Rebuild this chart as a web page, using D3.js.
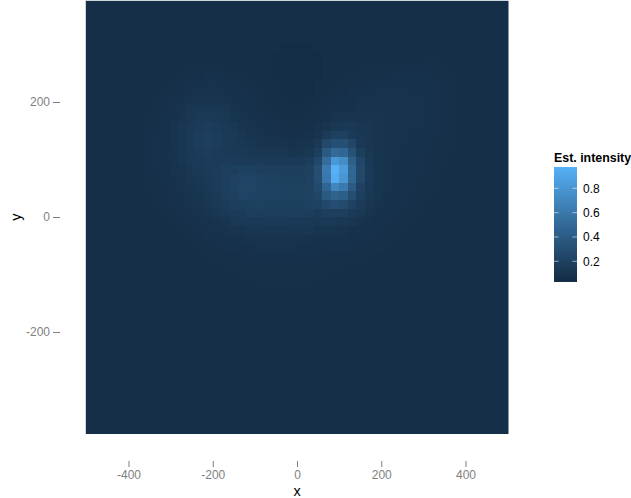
<!DOCTYPE html>
<html><head><meta charset="utf-8">
<script src="https://cdnjs.cloudflare.com/ajax/libs/d3/7.8.5/d3.min.js"></script>
<style>html,body{margin:0;padding:0;background:#fff}svg{display:block;font-family:"Liberation Sans",Arial,sans-serif}</style>
</head><body><svg id="c" width="631" height="498"></svg>
<script>
const xTicks=[-400,-200,0,200,400];
const yTicks=[-200,0,200];
const legendTicks=[0.2,0.4,0.6,0.8];
const legendTitle="Est. intensity";
// estimated intensity x100; rows from the top (y high) to the bottom, columns left to right
const intensity=[
[6,6,6,6,6,6,6,6,6,6,6,6,6,6,6,6,6,6,6,6,6,6,6,6,6,6,6,6,6,6,6,6,6,6,6,6,6,6,6,6,6,6,6,6,6,6,6,6,6,6],
[6,6,6,6,6,6,6,6,6,6,6,6,6,6,6,6,6,6,6,6,6,6,6,6,6,6,6,6,6,6,6,6,6,6,6,6,6,6,6,6,6,6,6,6,6,6,6,6,6,6],
[6,6,6,6,6,6,6,6,6,6,6,6,6,6,6,6,6,6,6,6,6,6,6,6,6,6,6,6,6,6,6,6,6,6,6,6,6,6,6,6,6,6,6,6,6,6,6,6,6,6],
[6,6,6,6,6,6,6,6,6,6,6,6,6,6,6,6,6,6,6,6,6,6,6,6,6,6,6,6,6,6,6,6,6,6,6,6,6,6,6,6,6,6,6,6,6,6,6,6,6,6],
[6,6,6,6,6,6,6,6,6,6,6,6,6,6,6,6,6,6,6,6,6,6,6,6,6,6,6,6,6,6,6,6,6,6,6,6,6,6,6,6,6,6,6,6,6,6,6,6,6,6],
[6,6,6,6,6,6,6,6,6,6,6,6,6,6,6,6,6,6,6,6,6,6,6,5,5,5,5,6,6,6,6,6,6,6,6,6,6,6,6,6,6,6,6,6,6,6,6,6,6,6],
[6,6,6,6,6,6,6,6,6,6,6,6,6,6,6,6,6,6,6,6,6,6,5,5,5,5,5,5,6,6,6,6,6,6,6,6,6,6,6,6,7,7,6,6,6,6,6,6,6,6],
[6,6,6,6,6,6,6,6,6,6,6,6,7,7,7,7,6,6,6,6,6,6,5,5,5,5,5,5,6,6,6,6,6,7,7,7,7,7,7,7,7,7,7,6,6,6,6,6,6,6],
[6,6,6,6,6,6,6,6,6,6,6,7,7,7,8,8,7,7,7,6,6,6,5,5,5,5,5,5,6,6,6,7,7,7,7,7,8,8,8,8,8,7,7,7,6,6,6,6,6,6],
[6,6,6,6,6,6,6,6,6,6,7,7,8,8,9,9,8,8,7,7,6,6,6,5,5,5,5,6,6,6,7,7,7,8,8,8,8,8,8,8,8,8,7,7,6,6,6,6,6,6],
[6,6,6,6,6,6,6,6,6,7,7,8,9,10,10,10,9,8,8,7,7,6,6,5,5,5,5,6,6,7,7,8,8,8,9,9,9,9,9,8,8,8,7,7,6,6,6,6,6,6],
[6,6,6,6,6,6,6,6,7,7,8,9,10,11,11,11,10,9,8,8,7,6,6,6,5,5,6,6,7,8,8,8,9,9,9,9,9,9,9,9,8,8,7,7,6,6,6,6,6,6],
[6,6,6,6,6,6,6,6,7,8,9,10,12,13,13,13,12,10,9,8,7,7,6,6,6,6,6,7,8,8,9,9,10,10,10,10,10,9,9,9,8,8,7,7,6,6,6,6,6,6],
[6,6,6,6,6,6,6,7,7,8,9,11,13,15,15,14,13,11,10,9,8,7,7,6,6,6,7,7,8,10,11,11,11,11,11,10,10,9,9,9,8,8,7,7,6,6,6,6,6,6],
[6,6,6,6,6,6,6,7,7,8,10,12,14,16,17,16,14,13,11,10,9,8,8,7,7,7,7,9,11,13,14,14,12,12,11,10,10,9,9,9,8,8,7,7,6,6,6,6,6,6],
[6,6,6,6,6,6,6,7,8,8,10,12,15,17,18,17,15,14,12,11,10,9,9,8,8,8,9,11,16,20,20,16,13,12,11,10,10,9,9,8,8,8,7,7,6,6,6,6,6,6],
[6,6,6,6,6,6,6,7,8,8,10,12,15,17,18,17,15,14,13,12,11,10,10,10,9,10,11,14,26,31,31,24,14,12,11,10,9,9,9,8,8,7,7,7,6,6,6,6,6,6],
[6,6,6,6,6,6,6,7,8,9,10,12,14,16,17,16,15,14,14,13,13,12,12,12,11,12,13,19,38,50,48,33,19,13,11,10,9,9,8,8,8,7,7,6,6,6,6,6,6,6],
[6,6,6,6,6,6,6,7,8,9,10,12,14,15,16,16,16,16,16,16,16,15,15,15,14,15,17,25,53,82,74,43,24,14,11,10,9,9,8,8,7,7,7,6,6,6,6,6,6,6],
[6,6,6,6,6,6,6,7,8,8,10,11,13,14,15,16,18,19,20,20,19,18,18,18,17,18,20,30,62,97,84,48,26,15,11,10,9,8,8,8,7,7,6,6,6,6,6,6,6,6],
[6,6,6,6,6,6,6,7,7,8,9,10,12,13,15,16,18,21,22,22,21,20,20,19,19,19,21,30,60,95,80,47,25,15,11,10,9,8,8,7,7,7,6,6,6,6,6,6,6,6],
[6,6,6,6,6,6,6,7,7,8,9,10,11,12,14,16,19,21,23,23,22,21,21,20,20,20,21,27,47,70,61,39,21,14,11,10,9,8,8,7,7,7,6,6,6,6,6,6,6,6],
[6,6,6,6,6,6,6,6,7,7,8,9,10,11,13,15,18,20,22,22,21,21,21,20,20,20,21,24,38,45,42,29,19,13,11,9,8,8,7,7,7,6,6,6,6,6,6,6,6,6],
[6,6,6,6,6,6,6,6,7,7,8,9,10,11,12,14,16,18,19,19,20,19,19,19,19,19,20,21,26,30,28,21,16,12,10,9,8,8,7,7,6,6,6,6,6,6,6,6,6,6],
[6,6,6,6,6,6,6,6,6,7,7,8,9,10,11,12,14,15,16,17,17,17,17,17,17,17,17,16,18,19,18,15,13,11,9,8,8,7,7,7,6,6,6,6,6,6,6,6,6,6],
[6,6,6,6,6,6,6,6,6,6,7,7,8,9,9,10,11,13,14,14,14,15,15,15,14,14,14,13,14,14,13,12,10,9,8,8,7,7,7,6,6,6,6,6,6,6,6,6,6,6],
[6,6,6,6,6,6,6,6,6,6,6,7,7,8,9,9,10,11,11,12,12,12,12,12,12,12,12,11,11,11,10,9,9,8,8,7,7,7,6,6,6,6,6,6,6,6,6,6,6,6],
[6,6,6,6,6,6,6,6,6,6,6,6,7,7,8,8,9,9,9,10,10,10,10,10,10,10,9,9,9,9,9,8,8,8,7,7,7,6,6,6,6,6,6,6,6,6,6,6,6,6],
[6,6,6,6,6,6,6,6,6,6,6,6,6,7,7,7,8,8,8,8,9,9,9,9,9,8,8,8,8,8,8,8,7,7,7,7,6,6,6,6,6,6,6,6,6,6,6,6,6,6],
[6,6,6,6,6,6,6,6,6,6,6,6,6,6,7,7,7,7,7,8,8,8,8,8,8,8,8,8,7,7,7,7,7,7,6,6,6,6,6,6,6,6,6,6,6,6,6,6,6,6],
[6,6,6,6,6,6,6,6,6,6,6,6,6,6,6,6,7,7,7,7,7,7,7,7,7,7,7,7,7,7,7,6,6,6,6,6,6,6,6,6,6,6,6,6,6,6,6,6,6,6],
[6,6,6,6,6,6,6,6,6,6,6,6,6,6,6,6,6,6,7,7,7,7,7,7,7,7,7,7,7,6,6,6,6,6,6,6,6,6,6,6,6,6,6,6,6,6,6,6,6,6],
[6,6,6,6,6,6,6,6,6,6,6,6,6,6,6,6,6,6,6,6,7,7,7,7,7,7,7,6,6,6,6,6,6,6,6,6,6,6,6,6,6,6,6,6,6,6,6,6,6,6],
[6,6,6,6,6,6,6,6,6,6,6,6,6,6,6,6,6,6,6,6,6,6,6,6,6,6,6,6,6,6,6,6,6,6,6,6,6,6,6,6,6,6,6,6,6,6,6,6,6,6],
[6,6,6,6,6,6,6,6,6,6,6,6,6,6,6,6,6,6,6,6,6,6,6,6,6,6,6,6,6,6,6,6,6,6,6,6,6,6,6,6,6,6,6,6,6,6,6,6,6,6],
[6,6,6,6,6,6,6,6,6,6,6,6,6,6,6,6,6,6,6,6,6,6,6,6,6,6,6,6,6,6,6,6,6,6,6,6,6,6,6,6,6,6,6,6,6,6,6,6,6,6],
[6,6,6,6,6,6,6,6,6,6,6,6,6,6,6,6,6,6,6,6,6,6,6,6,6,6,6,6,6,6,6,6,6,6,6,6,6,6,6,6,6,6,6,6,6,6,6,6,6,6],
[6,6,6,6,6,6,6,6,6,6,6,6,6,6,6,6,6,6,6,6,6,6,6,6,6,6,6,6,6,6,6,6,6,6,6,6,6,6,6,6,6,6,6,6,6,6,6,6,6,6],
[6,6,6,6,6,6,6,6,6,6,6,6,6,6,6,6,6,6,6,6,6,6,6,6,6,6,6,6,6,6,6,6,6,6,6,6,6,6,6,6,6,6,6,6,6,6,6,6,6,6],
[6,6,6,6,6,6,6,6,6,6,6,6,6,6,6,6,6,6,6,6,6,6,6,6,6,6,6,6,6,6,6,6,6,6,6,6,6,6,6,6,6,6,6,6,6,6,6,6,6,6],
[6,6,6,6,6,6,6,6,6,6,6,6,6,6,6,6,6,6,6,6,6,6,6,6,6,6,6,6,6,6,6,6,6,6,6,6,6,6,6,6,6,6,6,6,6,6,6,6,6,6],
[6,6,6,6,6,6,6,6,6,6,6,6,6,6,6,6,6,6,6,6,6,6,6,6,6,6,6,6,6,6,6,6,6,6,6,6,6,6,6,6,6,6,6,6,6,6,6,6,6,6],
[6,6,6,6,6,6,6,6,6,6,6,6,6,6,6,6,6,6,6,6,6,6,6,6,6,6,6,6,6,6,6,6,6,6,6,6,6,6,6,6,6,6,6,6,6,6,6,6,6,6],
[6,6,6,6,6,6,6,6,6,6,6,6,6,6,6,6,6,6,6,6,6,6,6,6,6,6,6,6,6,6,6,6,6,6,6,6,6,6,6,6,6,6,6,6,6,6,6,6,6,6],
[6,6,6,6,6,6,6,6,6,6,6,6,6,6,6,6,6,6,6,6,6,6,6,6,6,6,6,6,6,6,6,6,6,6,6,6,6,6,6,6,6,6,6,6,6,6,6,6,6,6],
[6,6,6,6,6,6,6,6,6,6,6,6,6,6,6,6,6,6,6,6,6,6,6,6,6,6,6,6,6,6,6,6,6,6,6,6,6,6,6,6,6,6,6,6,6,6,6,6,6,6],
[6,6,6,6,6,6,6,6,6,6,6,6,6,6,6,6,6,6,6,6,6,6,6,6,6,6,6,6,6,6,6,6,6,6,6,6,6,6,6,6,6,6,6,6,6,6,6,6,6,6],
[6,6,6,6,6,6,6,6,6,6,6,6,6,6,6,6,6,6,6,6,6,6,6,6,6,6,6,6,6,6,6,6,6,6,6,6,6,6,6,6,6,6,6,6,6,6,6,6,6,6],
[6,6,6,6,6,6,6,6,6,6,6,6,6,6,6,6,6,6,6,6,6,6,6,6,6,6,6,6,6,6,6,6,6,6,6,6,6,6,6,6,6,6,6,6,6,6,6,6,6,6],
[6,6,6,6,6,6,6,6,6,6,6,6,6,6,6,6,6,6,6,6,6,6,6,6,6,6,6,6,6,6,6,6,6,6,6,6,6,6,6,6,6,6,6,6,6,6,6,6,6,6]
];
const svg=d3.select("#c");
const panel={l:85.5,r:508.5,t:0.5,b:434};
const x=d3.scaleLinear().domain([-400,400]).range([128.5,465.5]);
const y=d3.scaleLinear().domain([-200,200]).range([332,102]);
const col=d3.scaleBand().domain(d3.range(50)).range([panel.l,panel.r]);
const row=d3.scaleBand().domain(d3.range(50)).range([panel.t,panel.b]);
const color=d3.scaleLinear().domain([0.03,0.975]).range(["#132B43","#56B1F7"]).interpolate(d3.interpolateLab).clamp(true);
const cells=[];
intensity.forEach((r,j)=>r.forEach((v,i)=>cells.push({i,j,v:v/100})));
svg.append("rect").attr("x",panel.l-0.5).attr("y",panel.t-0.5).attr("width",panel.r-panel.l+1).attr("height",panel.b-panel.t+1).attr("fill","#cfd6db");
svg.append("g").attr("shape-rendering","crispEdges").selectAll("rect").data(cells).join("rect")
 .attr("x",d=>col(d.i)).attr("y",d=>row(d.j)).attr("width",col.bandwidth()+1).attr("height",row.bandwidth()+1)
 .attr("fill",d=>color(d.v));
// cover the overdraw on the far edges
svg.append("rect").attr("x",panel.r).attr("y",0).attr("width",3).attr("height",437).attr("fill","#fff");
svg.append("rect").attr("x",80).attr("y",panel.b).attr("width",432).attr("height",3).attr("fill","#fff");
// axes
const ax=d3.axisBottom(x).tickValues(xTicks).tickSize(6).tickPadding(3).tickFormat(d3.format("d"));
const gx=svg.append("g").attr("transform","translate(0,461)").call(ax);
const ay=d3.axisLeft(y).tickValues(yTicks).tickSize(7).tickPadding(3).tickFormat(d3.format("d"));
const gy=svg.append("g").attr("transform","translate(60,0)").call(ay);
[gx,gy].forEach(g=>{g.select(".domain").remove();g.attr("font-family",null).attr("font-size",null);
 g.selectAll("line").attr("stroke","#7f7f7f");
 g.selectAll("text").attr("fill","#7f7f7f").style("font-size","12px").text(function(){return this.textContent.replace("−","-");});});
svg.append("text").attr("x",297).attr("y",496).attr("text-anchor","middle").style("font-size","14.5px").text("x");
svg.append("text").attr("transform","translate(21,217) rotate(-90)").attr("text-anchor","middle").style("font-size","14.5px").text("y");
// legend
const ly=d3.scaleLinear().domain([0.2,0.8]).range([261.3,188.3]);
const defs=svg.append("defs");
const grad=defs.append("linearGradient").attr("id","lg").attr("x1",0).attr("x2",0).attr("y1",1).attr("y2",0);
d3.range(0,21).forEach(k=>{const t=k/20;grad.append("stop").attr("offset",t).attr("stop-color",color(0.03+t*0.945));});
svg.append("rect").attr("x",554).attr("y",ly(0.975)).attr("width",23).attr("height",ly(0.03)-ly(0.975)).attr("fill","url(#lg)");
legendTicks.forEach(t=>{
 svg.append("line").attr("x1",554).attr("x2",558.6).attr("y1",ly(t)).attr("y2",ly(t)).attr("stroke","#fff").attr("stroke-opacity",.55);
 svg.append("line").attr("x1",572.4).attr("x2",577).attr("y1",ly(t)).attr("y2",ly(t)).attr("stroke","#fff").attr("stroke-opacity",.55);
 svg.append("text").attr("x",583).attr("y",ly(t)+4.5).style("font-size","12px").attr("fill","#000").text(t.toFixed(1));
});
svg.append("text").attr("x",554).attr("y",162).style("font-size","12.4px").style("font-weight","bold").text(legendTitle);
</script></body></html>
